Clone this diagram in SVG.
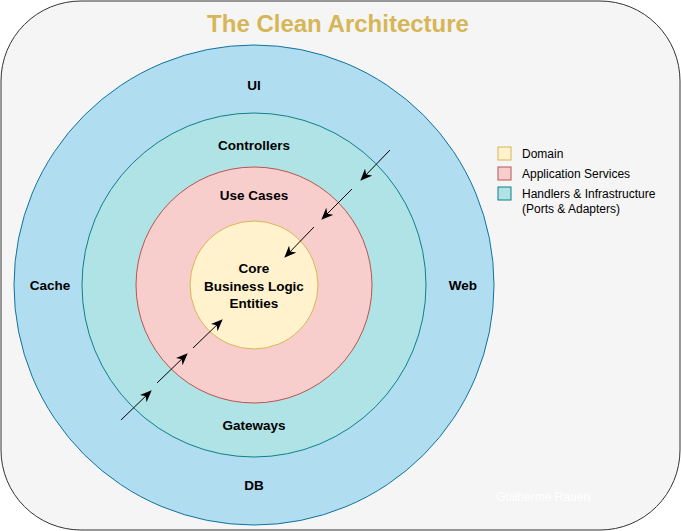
<svg xmlns="http://www.w3.org/2000/svg" width="681" height="531" viewBox="0 0 681 531">
<style>
text{font-family:"Liberation Sans",Arial,Helvetica,sans-serif;}
.lbl{font-size:13.5px;font-weight:bold;fill:#000;text-anchor:middle;}
.leg{font-size:12px;fill:#000;}
.arr{stroke:#000;stroke-width:1;fill:none;marker-end:url(#ah);}
</style>
<defs>
<marker id="ah" viewBox="0 0 12 10" refX="11" refY="5" markerWidth="12" markerHeight="10" markerUnits="userSpaceOnUse" orient="auto">
<path d="M0,0 L12,5 L0,10 L3.5,5 z" fill="#000"/>
</marker>
</defs>
<g id="background">
<rect x="1" y="1" width="679" height="529" rx="80" ry="80" fill="#f5f5f5" stroke="#333"/>
<text x="338" y="32" font-size="24" font-weight="bold" fill="#d6b656" text-anchor="middle">The Clean Architecture</text>
</g>
<g id="ring-ui">
<circle cx="254" cy="285" r="240" fill="#b1ddf0" stroke="#10739e"/>
<text class="lbl" x="254" y="90">UI</text>
<text class="lbl" x="50" y="290">Cache</text>
<text class="lbl" x="463" y="290">Web</text>
<text class="lbl" x="254" y="490">DB</text>
</g>
<g id="ring-controllers">
<circle cx="254" cy="285" r="172" fill="#b0e3e6" stroke="#0e8088"/>
<text class="lbl" x="254" y="150">Controllers</text>
<text class="lbl" x="254" y="430">Gateways</text>
</g>
<g id="ring-usecases">
<circle cx="254" cy="285" r="118" fill="#f8cecc" stroke="#b85450"/>
<text class="lbl" x="254" y="200">Use Cases</text>
</g>
<g id="core">
<circle cx="254" cy="285" r="64" fill="#fff2cc" stroke="#d6b656"/>
<text class="lbl" x="254" y="273">Core</text>
<text class="lbl" x="254" y="291">Business Logic</text>
<text class="lbl" x="254" y="308">Entities</text>
</g>
<g id="connectors">
<line class="arr" x1="390" y1="150" x2="361" y2="180"/>
<line class="arr" x1="352" y1="189" x2="322" y2="219"/>
<line class="arr" x1="314" y1="227" x2="285" y2="257"/>
<line class="arr" x1="121" y1="420" x2="151" y2="391"/>
<line class="arr" x1="157" y1="383" x2="187" y2="354"/>
<line class="arr" x1="193" y1="348" x2="222" y2="320"/>
</g>
<g id="legend">
<rect x="498" y="147" width="13" height="13" fill="#fff2cc" stroke="#d6b656"/>
<text class="leg" x="522" y="158">Domain</text>
<rect x="498" y="167" width="13" height="13" fill="#f8cecc" stroke="#b85450"/>
<text class="leg" x="522" y="178">Application Services</text>
<rect x="498" y="187" width="13" height="13" fill="#b0e3e6" stroke="#0e8088"/>
<text class="leg" x="522" y="198">Handlers &amp; Infrastructure</text>
<text class="leg" x="522" y="213">(Ports &amp; Adapters)</text>
</g>
<text x="496" y="501" font-size="12" fill="#ffffff">Guilherme Rauen</text>
</svg>
